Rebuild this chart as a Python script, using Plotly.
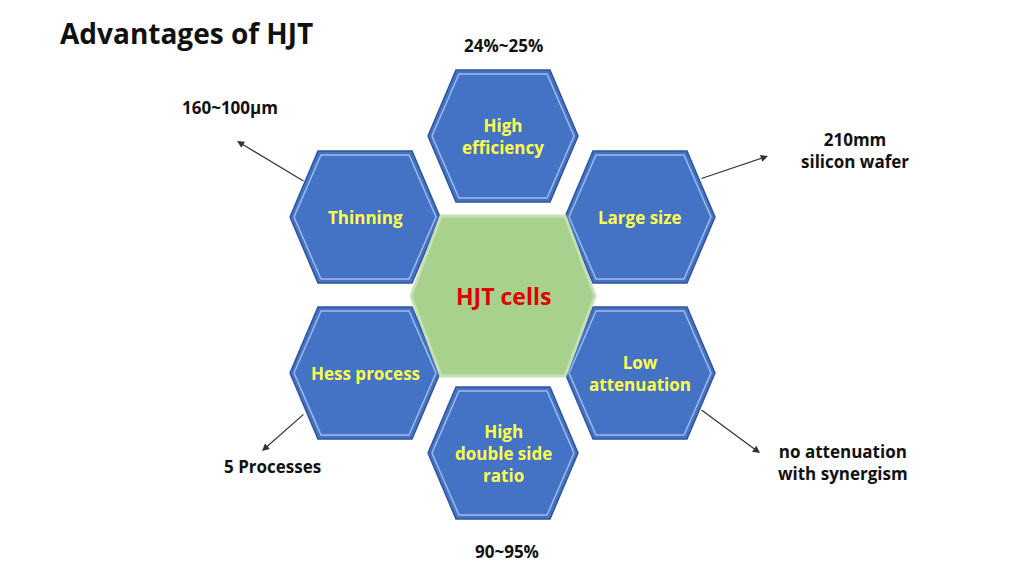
import plotly.graph_objects as go

# hexagon labels and centres (pixel space, y down)
hex_labels = ["High<br>efficiency", "Large size", "Low<br>attenuation",
              "High<br>double side<br>ratio", "Hess process", "Thinning"]
hex_cx = [503, 640, 640, 503, 365, 365]
hex_cy = [135, 216, 372, 452, 372, 216]

center_label = "HJT cells"
center_xy = (503, 295)

# outer notes
note_text = ["24%~25%", "160~100μm", "210mm<br>silicon wafer",
             "no attenuation<br>with synergism", "5 Processes", "90~95%"]
note_x = [503, 230, 855, 843, 272, 507]
note_y = [44, 106, 149, 461, 465, 550]

# arrows: (tail x, tail y, head x, head y)
arrow_tail_x = [305, 700, 700, 305]
arrow_tail_y = [181, 178, 408, 412]
arrow_head_x = [237, 768, 760, 262]
arrow_head_y = [140, 155, 452, 450]


def hexagon(cx, cy, w, t, h):
    xs = [cx - w, cx - t, cx + t, cx + w, cx + t, cx - t, cx - w]
    ys = [cy, cy - h, cy - h, cy, cy + h, cy + h, cy]
    return xs, ys


fig = go.Figure()

for cx, cy, lab in zip(hex_cx, hex_cy, hex_labels):
    xs, ys = hexagon(cx, cy, 75, 47, 66)
    fig.add_trace(go.Scatter(x=xs, y=ys, mode="lines", fill="toself",
                             fillcolor="#4472c4", line=dict(color="#2f5597", width=1.5),
                             hoverinfo="skip", showlegend=False))
    xs, ys = hexagon(cx, cy, 71, 44, 62)
    fig.add_trace(go.Scatter(x=xs, y=ys, mode="lines", fill="toself",
                             fillcolor="#4472c4", line=dict(color="#9dbbea", width=1.5),
                             hoverinfo="skip", showlegend=False))
    fig.add_annotation(x=cx, y=cy, text="<b>" + lab + "</b>", showarrow=False,
                       font=dict(family="Open Sans", size=17, color="#ffff4d"))

xs, ys = hexagon(center_xy[0], center_xy[1], 92, 62, 80)
fig.add_trace(go.Scatter(x=xs, y=ys, mode="lines", fill="toself",
                         fillcolor="#a9d18e", line=dict(color="#c5e0b4", width=3),
                         hoverinfo="skip", showlegend=False))
fig.add_annotation(x=center_xy[0], y=center_xy[1], text="<b>" + center_label + "</b>",
                   showarrow=False, font=dict(family="Open Sans", size=23, color="#e00000"))

for t, x, y in zip(note_text, note_x, note_y):
    fig.add_annotation(x=x, y=y, text="<b>" + t + "</b>", showarrow=False,
                       font=dict(family="Open Sans", size=17, color="#111111"))

for tx, ty, hx, hy in zip(arrow_tail_x, arrow_tail_y, arrow_head_x, arrow_head_y):
    fig.add_annotation(x=hx, y=hy, ax=tx, ay=ty, xref="x", yref="y", axref="x", ayref="y",
                       text="", showarrow=True, arrowhead=2, arrowsize=1.2,
                       arrowwidth=1.2, arrowcolor="#333333")

fig.add_annotation(x=58, y=32, text="<b>Advantages of HJT</b>", showarrow=False,
                   xanchor="left", font=dict(family="Open Sans", size=28, color="#111111"))

# page body adds ~8px offset, so shift the pixel ranges to compensate
fig.update_layout(
    width=1024, height=576,
    margin=dict(l=0, r=0, t=0, b=0),
    paper_bgcolor="white", plot_bgcolor="white",
    xaxis=dict(range=[8, 1032], visible=False, fixedrange=True),
    yaxis=dict(range=[583, 7], visible=False, fixedrange=True),
)

fig.write_html("out.html")
